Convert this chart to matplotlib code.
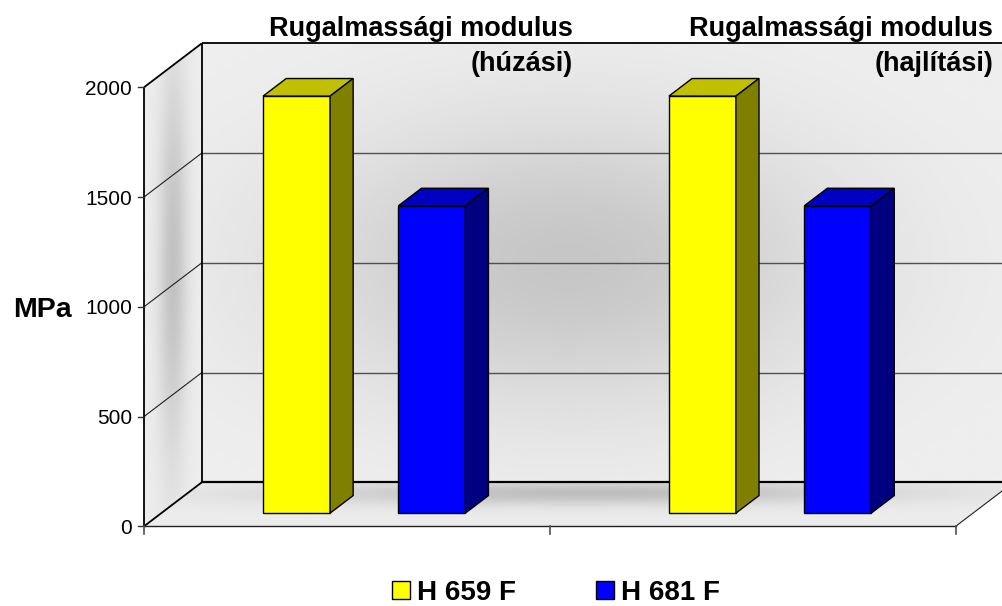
import numpy as np
import matplotlib
matplotlib.use("Agg")
import matplotlib.pyplot as plt
from matplotlib.patches import Polygon, Patch

plt.rcParams['font.family'] = ['Liberation Sans', 'DejaVu Sans']

# data
categories = ["Rugalmassági modulus\n(húzási)", "Rugalmassági modulus\n(hajlítási)"]
series_names = ["H 659 F", "H 681 F"]
h659 = [1900, 1900]
h681 = [1400, 1400]
yticks = [0, 500, 1000, 1500, 2000]
ylabel = "MPa"

face_cols = ["#ffff00", "#0000ff"]
top_cols = ["#c0c000", "#0000c0"]
side_cols = ["#808000", "#000080"]

# layout (pixel scale of the front plane)
W, H = 1002, 606
X0_PX, Y0_PX = 144.0, 526.3          # front origin in pixels
UX = 405.85                          # px per category
UY = 0.2195                          # px per MPa
DX, DY = 57.7 / UX, 200.0            # full depth offset in data units
px = 1.0 / UX                        # one pixel in x data units
py = 1.0 / UY                        # one pixel in y data units

fig = plt.figure(figsize=(W / 100, H / 100), dpi=100)
ax = fig.add_axes([0, 0, 1, 1])
ax.set_xlim(-X0_PX / UX, (W - X0_PX) / UX)
ax.set_ylim(-(H - Y0_PX) / UY, Y0_PX / UY)
ax.axis('off')

ncat = len(categories)
ymax = yticks[-1]


def shaded(poly, fn, z):
    xs = [p[0] for p in poly]
    ys = [p[1] for p in poly]
    ext = (min(xs), max(xs), min(ys), max(ys))
    gx, gy = np.meshgrid(np.linspace(ext[0], ext[1], 400), np.linspace(ext[2], ext[3], 300))
    img = fn(gx, gy)
    im = ax.imshow(img, extent=ext, origin='lower', cmap='gray', vmin=0, vmax=1,
                   aspect='auto', interpolation='bilinear', zorder=z)
    patch = Polygon(poly, closed=True, facecolor='none', edgecolor='none', zorder=z)
    ax.add_patch(patch)
    im.set_clip_path(patch)


def back_fn(x, y):
    u = (x - DX) / ncat
    t = (y - DY) / ymax
    f = np.exp(-((u - 0.45) / 0.33) ** 2 - ((t - 0.5) / 0.33) ** 2)
    return 0.935 - 0.16 * f


def side_fn(x, y):
    d = np.clip(x / DX, 0, 1)
    t = (y - DY * d) / ymax
    f = np.exp(-((d - 0.5) / 0.25) ** 2) * np.exp(-((t - 0.55) / 0.45) ** 2)
    return 0.93 - 0.17 * f


def floor_fn(x, y):
    d = np.clip(y / DY, 0, 1)
    xf = x - DX * d
    f = np.exp(-((d - 0.75) / 0.28) ** 2) * np.exp(-((xf - 1.0) / 0.75) ** 2)
    return 0.925 - 0.18 * f


back = [(DX, DY), (ncat + DX, DY), (ncat + DX, ymax + DY), (DX, ymax + DY)]
side = [(0, 0), (DX, DY), (DX, ymax + DY), (0, ymax)]
floor = [(0, 0), (ncat, 0), (ncat + DX, DY), (DX, DY)]
shaded(back, back_fn, 1)
shaded(side, side_fn, 1)
shaded(floor, floor_fn, 1)

# gridlines
for v in yticks[1:-1]:
    ax.plot([0, DX], [v, v + DY], color='#202020', lw=0.8, zorder=2)
    ax.plot([DX, ncat + DX], [v + DY, v + DY], color='#505050', lw=1.0, zorder=2)

# frame
k = dict(color='black', lw=1.3, zorder=3, solid_capstyle='butt')
ax.plot([0, DX], [ymax, ymax + DY], **k)
ax.plot([DX, ncat + DX], [ymax + DY, ymax + DY], **k)
ax.plot([DX, DX], [DY, ymax + DY], **k)
ax.plot([0, DX], [0, DY], **k)
ax.plot([DX, ncat + DX], [DY, DY], color='black', lw=1.6, zorder=3)
ax.plot([0, 0], [0, ymax], **k)
ax.plot([0, ncat], [0, 0], color='#202020', lw=1.0, zorder=3)
ax.plot([ncat, ncat + DX], [0, DY], color='#202020', lw=0.8, zorder=3)

# ticks
for v in yticks:
    ax.plot([-6 * px, 0], [v, v], color='#303030', lw=1.0, zorder=3)
    ax.text(-12 * px, v, str(v), ha='right', va='center_baseline', fontsize=15, zorder=4)
for i in range(ncat + 1):
    ax.plot([i, i], [0, -8 * py], color='#505050', lw=1.2, zorder=3)

ax.text(-0.251, 1000, ylabel, ha='center', va='center_baseline', fontsize=20.5,
        fontweight='bold', zorder=4)

# bars
bw = 0.165
d0, d1 = 0.3, 0.7
for s, vals in enumerate([h659, h681]):
    for i, v in enumerate(vals):
        xl = i + (s + 1) / 3 - bw / 2 + DX * d0
        xr = xl + bw
        yb = DY * d0
        yt = v + DY * d0
        ddx = DX * (d1 - d0)
        ddy = DY * (d1 - d0)
        ek = dict(edgecolor='black', lw=1.0, zorder=5 + i, joinstyle='miter')
        ax.add_patch(Polygon([(xl, yb), (xr, yb), (xr, yt), (xl, yt)], facecolor=face_cols[s], **ek))
        ax.add_patch(Polygon([(xl, yt), (xr, yt), (xr + ddx, yt + ddy), (xl + ddx, yt + ddy)],
                             facecolor=top_cols[s], **ek))
        ax.add_patch(Polygon([(xr, yb), (xr + ddx, yb + ddy), (xr + ddx, yt + ddy), (xr, yt)],
                             facecolor=side_cols[s], **ek))

# category labels at top
label_x = [1.057, 2.092]
for i, c in enumerate(categories):
    ax.text(label_x[i], (Y0_PX - 16) / UY, c, ha='right', va='top', fontsize=19.5,
            fontweight='bold', linespacing=1.43, zorder=6)

handles = [Patch(facecolor=face_cols[s], edgecolor='black', lw=1.0) for s in range(2)]
fig.legend(handles, series_names, loc='center', bbox_to_anchor=(556 / W, (H - 593) / H),
           ncol=2, frameon=False, prop=dict(size=20, weight='bold'),
           handlelength=0.63, handleheight=0.63, handletextpad=0.25, columnspacing=2.9,
           borderpad=0, borderaxespad=0)

fig.savefig("out.png", dpi=100)
